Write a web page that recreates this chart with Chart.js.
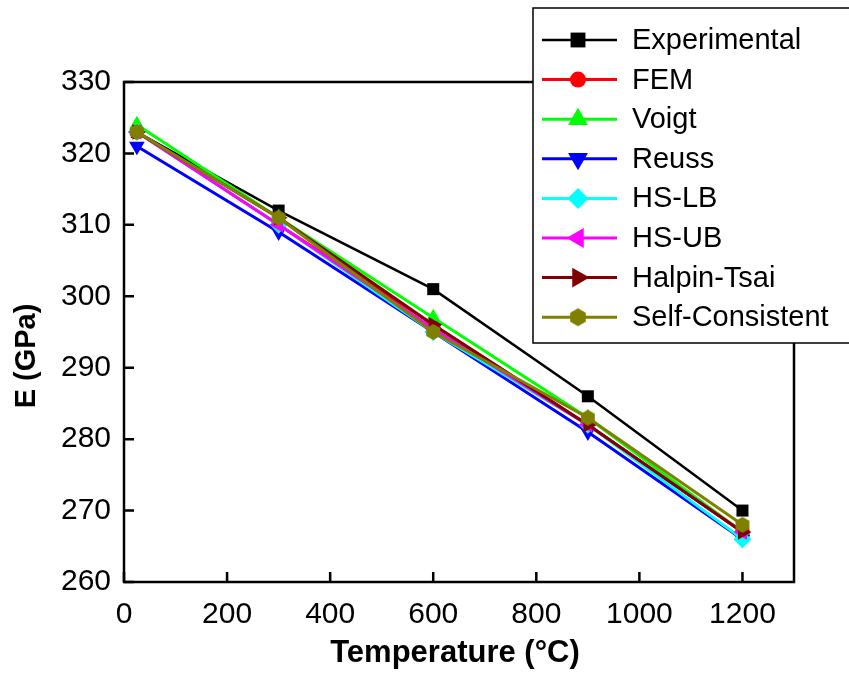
<!DOCTYPE html>
<html>
<head>
<meta charset="utf-8">
<script src="https://cdn.jsdelivr.net/npm/chart.js@4.4.1/dist/chart.umd.min.js"></script>
<style>
  html, body { margin: 0; padding: 0; background: #fff; }
  #wrap { width: 849px; height: 675px; }
</style>
</head>
<body>
<div id="wrap"><canvas id="myChart" width="849" height="675"></canvas></div>
<script>
const temperatures = [25, 300, 600, 900, 1200];

const seriesNames = ['Experimental', 'FEM', 'Voigt', 'Reuss', 'HS-LB', 'HS-UB', 'Halpin-Tsai', 'Self-Consistent'];
const experimental   = [323, 312, 301, 286, 270];
const fem            = [323, 310, 296, 282, 267];
const voigt          = [324, 311, 297, 283, 267];
const reuss          = [321, 309, 295, 281, 266];
const hsLB           = [323, 310, 295, 282, 266];
const hsUB           = [323, 310, 295.5, 282, 267];
const halpinTsai     = [323, 311, 296, 282, 267];
const selfConsistent = [323, 311, 295, 283, 268];

const xTicks = [0, 200, 400, 600, 800, 1000, 1200];
const yTicks = [260, 270, 280, 290, 300, 310, 320, 330];

const colors = ['#000000', '#ff0000', '#00ff00', '#0000ff', '#00ffff', '#ff00ff', '#800000', '#808000'];

const FONT = '"Liberation Sans", Arial, sans-serif';

// hexagon marker for the self-consistent curve
function hexMarker(r, color) {
  const c = document.createElement('canvas');
  c.width = c.height = 2 * r + 2;
  const g = c.getContext('2d');
  g.fillStyle = color;
  g.beginPath();
  for (let i = 0; i < 6; i++) {
    const a = Math.PI / 6 + i * Math.PI / 3;
    const px = r + 1 + r * Math.cos(a), py = r + 1 + r * Math.sin(a);
    if (i === 0) g.moveTo(px, py); else g.lineTo(px, py);
  }
  g.closePath();
  g.fill();
  return c;
}

// r: size on the curves, lr: size in the legend
const markers = [
  {style: 'rect', rot: 0, r: 8.5, lr: 10.5},
  {style: 'circle', rot: 0, r: 7.5, lr: 8},
  {style: 'triangle', rot: 0, r: 9, lr: 11.5},
  {style: 'triangle', rot: 180, r: 9, lr: 11.5},
  {style: 'rectRot', rot: 0, r: 9, lr: 10.5},
  {style: 'triangle', rot: -90, r: 9, lr: 11.5},
  {style: 'triangle', rot: 90, r: 9, lr: 11.5},
  {style: hexMarker(8, colors[7]), rot: 0, r: 8, lr: 8.5, legendStyle: hexMarker(9, colors[7])}
];

const values = [experimental, fem, voigt, reuss, hsLB, hsUB, halpinTsai, selfConsistent];

const datasets = seriesNames.map((name, i) => ({
  label: name,
  data: temperatures.map((t, j) => ({x: t, y: values[i][j]})),
  borderColor: colors[i],
  backgroundColor: colors[i],
  borderWidth: i === 0 ? 2.5 : 3,
  pointStyle: markers[i].style,
  rotation: markers[i].rot,
  pointRadius: markers[i].r,
  pointBorderWidth: 0,
  order: seriesNames.length - i,
  clip: false
}));

// frame, inward ticks, axis titles and legend box
const framePlugin = {
  id: 'frame',
  afterDatasetsDraw(chart) {
    const {ctx, chartArea: a, scales} = chart;
    ctx.save();
    ctx.strokeStyle = '#000';
    ctx.lineWidth = 2.5;
    ctx.strokeRect(a.left, a.top, a.right - a.left, a.bottom - a.top);
    ctx.beginPath();
    xTicks.forEach(v => {
      const x = scales.x.getPixelForValue(v);
      ctx.moveTo(x, a.bottom);
      ctx.lineTo(x, a.bottom - 10);
    });
    yTicks.forEach(v => {
      const y = scales.y.getPixelForValue(v);
      ctx.moveTo(a.left, y);
      ctx.lineTo(a.left + 10, y);
    });
    ctx.stroke();

    ctx.fillStyle = '#000';
    ctx.textAlign = 'center';
    ctx.textBaseline = 'middle';
    ctx.font = 'bold 31px ' + FONT;
    ctx.fillText('Temperature (°C)', 455, 653);
    ctx.translate(27, 356);
    ctx.rotate(-Math.PI / 2);
    ctx.font = 'bold 29px ' + FONT;
    ctx.fillText('E (GPa)', 0, 0);
    ctx.restore();
  },
  afterDraw(chart) {
    const ctx = chart.ctx;
    const left = 533, top = 8, bottom = 343, right = 860;
    ctx.save();
    ctx.fillStyle = '#fff';
    ctx.fillRect(left, top, right - left, bottom - top);
    ctx.strokeStyle = '#000';
    ctx.lineWidth = 1.5;
    ctx.strokeRect(left, top, right - left, bottom - top);
    ctx.font = '29px ' + FONT;
    ctx.textBaseline = 'middle';
    chart.data.datasets.forEach((ds, i) => {
      const y = 40 + i * 39.6;
      ctx.strokeStyle = ds.borderColor;
      ctx.lineWidth = ds.borderWidth;
      ctx.beginPath();
      ctx.moveTo(542, y);
      ctx.lineTo(617, y);
      ctx.stroke();
      ctx.fillStyle = ds.backgroundColor;
      Chart.helpers.drawPoint(ctx, {
        pointStyle: markers[i].legendStyle || ds.pointStyle,
        rotation: ds.rotation,
        radius: markers[i].lr,
        borderWidth: 0
      }, 578, y);
      ctx.fillStyle = '#000';
      ctx.fillText(ds.label, 632, y + 1);
    });
    ctx.restore();
  }
};

const config = {
  type: 'line',
  data: {datasets},
  options: {
    responsive: false,
    animation: false,
    layout: {padding: {top: 82, right: 55, left: 0, bottom: 0}},
    plugins: {legend: {display: false}, tooltip: {enabled: false}},
    scales: {
      x: {
        type: 'linear',
        min: 0, max: 1300,
        grid: {display: false, drawTicks: false},
        border: {display: false},
        afterBuildTicks: s => { s.ticks = xTicks.map(v => ({value: v})); },
        afterFit: s => { s.height = 93; },
        ticks: {
          color: '#000',
          padding: 15,
          callback: v => String(v),
          font: {family: FONT, size: 30}
        }
      },
      y: {
        min: 260, max: 330,
        grid: {display: false, drawTicks: false},
        border: {display: false},
        afterBuildTicks: s => { s.ticks = yTicks.map(v => ({value: v})); },
        afterFit: s => { s.width = 124; },
        ticks: {
          color: '#000',
          padding: 13,
          callback: v => String(v),
          font: {family: FONT, size: 30}
        }
      }
    }
  },
  plugins: [framePlugin]
};

const myChart = new Chart(document.getElementById('myChart'), config);
</script>
</body>
</html>
